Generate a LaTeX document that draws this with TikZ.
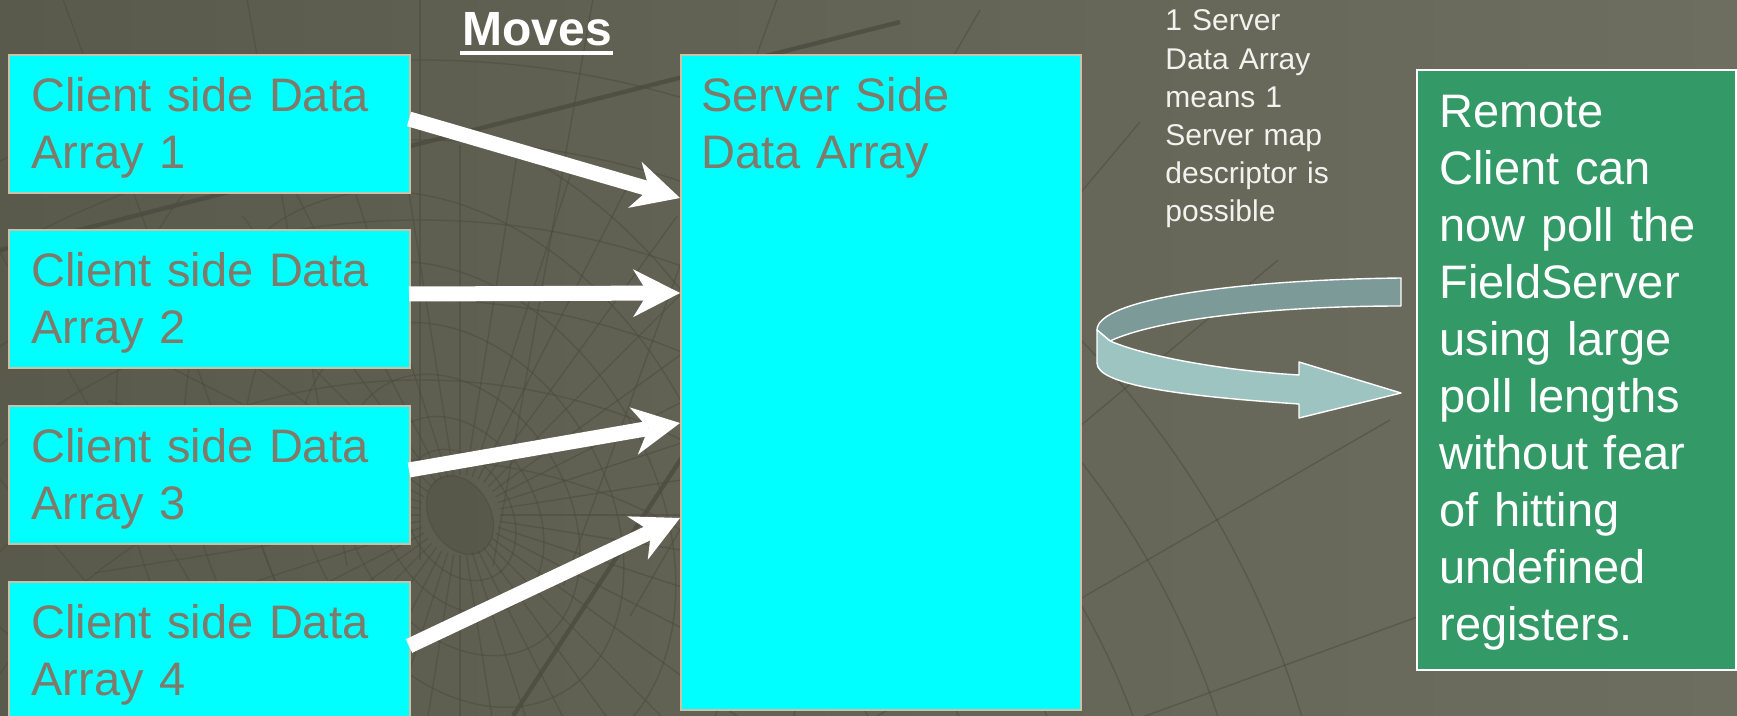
\documentclass[tikz,border=0pt]{standalone}
\usepackage{fontspec}
\setmainfont{Liberation Sans}
\usetikzlibrary{arrows.meta,calc}
\definecolor{bgL}{HTML}{5A5A4C}
\definecolor{bgR}{HTML}{6E6E60}
\definecolor{gridc}{HTML}{4B4B3F}
\definecolor{cyanfill}{HTML}{00FFFF}
\definecolor{boxline}{HTML}{C9C2A6}
\definecolor{boxtext}{HTML}{7F7A69}
\definecolor{greenfill}{HTML}{339966}
\definecolor{ribbondark}{HTML}{7B9A98}
\definecolor{ribbonlight}{HTML}{9EC4C2}
\definecolor{notetext}{HTML}{F2F2EE}
\begin{document}
\begin{tikzpicture}[x=0.5pt,y=-0.5pt,
  cbox/.style={draw=boxline, line width=1pt, fill=cyanfill, inner sep=0pt, anchor=north west},
  btext/.style={inner sep=0pt, anchor=base west, align=left, text width=200pt,
    font=\fontsize{23.5}{28.5}\selectfont, text=boxtext},
  gtext/.style={inner sep=0pt, anchor=base west, align=left, text width=150pt,
    font=\fontsize{23.5}{28.5}\selectfont, text=white},
  ntext/.style={inner sep=0pt, anchor=base west, align=left, text width=110pt,
    font=\fontsize{15}{19.1}\selectfont, text=notetext},
  moveline/.style={draw=white, line width=7.5pt,
    -{Stealth[length=23.5pt, width=24pt, inset=7.5pt, line width=0pt]}},
  ribbon/.style={draw=white, line width=0.7pt, line join=round},
  texture/.style={draw=gridc, line width=0.7pt, opacity=0.55},
  thickgrid/.style={draw=gridc, line width=2.2pt, opacity=0.8}
]
\useasboundingbox (0,0) rectangle (1737,716);
\shade[left color=bgL, right color=bgR] (0,0) rectangle (1737,716);

% background texture (template pattern)
\begin{scope}
\clip (0,0) rectangle (1737,716);
\fill[gridc, opacity=0.35, rotate around={-60:(460,515)}] (460,515) ellipse [x radius=42, y radius=30];
\foreach \r in {42,70,105,150,205,270,345,430}
  \draw[texture, rotate around={-60:(460,515)}] (460,515) ellipse [x radius=\r, y radius=0.72*\r];
\foreach \a in {0,9,...,351}
  \draw[texture] (460,515) ++(\a:40) -- ++(\a:330);
\foreach \r in {520,600,680,760,840,920}
  \draw[texture] (420,980) circle [radius=\r];
\foreach \a in {-170,-160,...,-10}
  \draw[texture] (420,980) ++(\a:420) -- ++(\a:700);
\draw[thickgrid] (0,250) -- (900,22);
\draw[thickgrid] (690,445) -- (513,716);
\end{scope}

% title
\node[inner sep=0pt, anchor=base west, font=\bfseries\fontsize{24}{28}\selectfont, text=white] (moves) at (462,46) {Moves};
\draw[white, line width=2pt] ($(moves.base west)+(-2,7)$) -- ($(moves.base east)+(1,7)$);

% client boxes
\node[cbox, minimum width=200.5pt, minimum height=69pt] (c1) at (8,54) {};
\node[cbox, minimum width=200.5pt, minimum height=69pt] (c2) at (8,229) {};
\node[cbox, minimum width=200.5pt, minimum height=69pt] (c3) at (8,405) {};
\node[cbox, minimum width=200.5pt, minimum height=72pt] (c4) at (8,581) {};
\node[btext] (c1t) at (31,112) {Client side Data\\Array 1};
\node[btext] (c2t) at (31,287) {Client side Data\\Array 2};
\node[btext] (c3t) at (31,463) {Client side Data\\Array 3};
\node[btext] (c4t) at (31,639) {Client side Data\\Array 4};

% server box
\node[cbox, minimum width=200pt, minimum height=327.5pt] (srv) at (680,54) {};
\node[btext] (srvt) at (701,112) {Server Side\\Data Array};

% arrows
\coordinate (t1) at (680,198);
\coordinate (t2) at (680,293);
\coordinate (t3) at (680,423);
\coordinate (t4) at (680,518);
\coordinate (s1) at (409,119);
\coordinate (s2) at (409,294);
\coordinate (s3) at (409,470);
\coordinate (s4) at (409,646);
\draw[moveline] (s1) -- (t1);
\draw[moveline] (s2) -- (t2);
\draw[moveline] (s3) -- (t3);
\draw[moveline] (s4) -- (t4);

% note
\node[ntext] (note) at (1165,31) {1 Server\\Data Array\\means 1\\Server map\\descriptor is\\possible};

% green box
\node[draw=white, line width=1pt, fill=greenfill, inner sep=0pt, anchor=north west,
  minimum width=159.5pt, minimum height=300pt] (green) at (1416,69) {};
\node[gtext] (greent) at (1439,128) {Remote\\Client can\\now poll the\\FieldServer\\using large\\poll lengths\\without fear\\of hitting\\undefined\\registers.};

% curved ribbon arrow
\filldraw[ribbon, fill=ribbondark]
  (1401,278) .. controls (1230,280) and (1097,300) .. (1097,330)
  -- (1110,341) .. controls (1160,318) and (1280,306) .. (1401,306) -- cycle;
\filldraw[ribbon, fill=ribbonlight]
  (1097,330) -- (1110,341) .. controls (1150,358) and (1230,371) .. (1299,375)
  -- (1299,362) -- (1401,393) -- (1299,418) -- (1299,404)
  .. controls (1180,396) and (1097,385) .. (1097,363) -- cycle;
\end{tikzpicture}
\end{document}
